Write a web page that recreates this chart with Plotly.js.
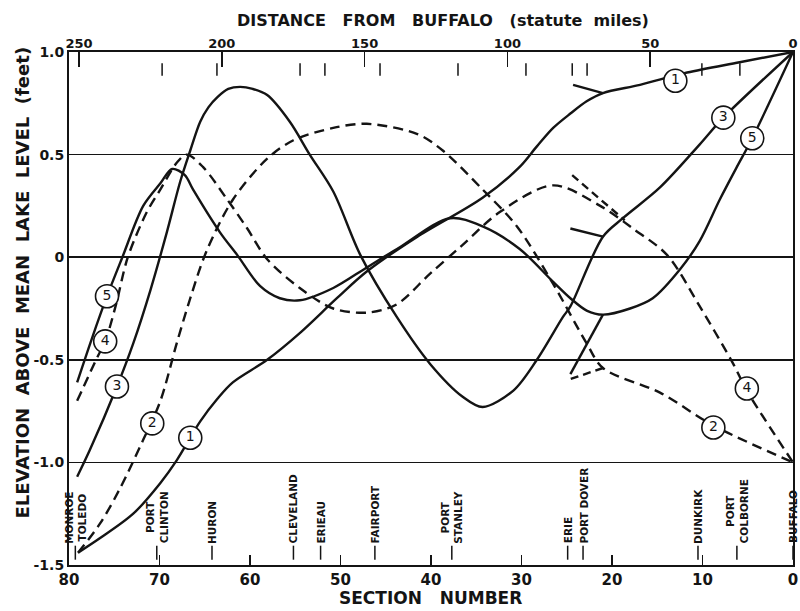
<!DOCTYPE html>
<html>
<head>
<meta charset="utf-8">
<script src="https://cdn.plot.ly/plotly-3.0.1.min.js"></script>
<style>html,body{margin:0;padding:0;background:#fff;}#chart{width:800px;height:611px;}</style>
</head>
<body>
<div id="chart"></div>
<script>
// ---- Data (section number, elevation above mean lake level in feet) ----
const sec1  = [79.0, 76.6, 72.9, 69.9, 68.1, 65.5, 63.6, 61.9, 58.1, 54.5, 50.4, 47.1, 41.5, 34.3, 30.2, 28.3, 26.5, 24.6, 22.8, 21.0, 16.9, 11.7, 5.9, 0];
const elev1 = [-1.44, -1.37, -1.25, -1.10, -0.99, -0.80, -0.69, -0.61, -0.50, -0.37, -0.20, -0.07, 0.10, 0.29, 0.44, 0.54, 0.63, 0.70, 0.76, 0.80, 0.84, 0.90, 0.95, 1.0];

const sec2  = [79.0, 76.6, 74.4, 71.8, 69.9, 68.1, 66.6, 64.8, 61.9, 58.1, 55.2, 50.8, 47.1, 41.5, 38.7, 34.3, 30.5, 26.5, 22.8, 21.0, 14.7, 8.8, 0];
const elev2 = [-1.44, -1.30, -1.13, -0.89, -0.70, -0.42, -0.20, 0.03, 0.28, 0.48, 0.57, 0.63, 0.65, 0.60, 0.52, 0.33, 0.15, -0.13, -0.42, -0.54, -0.66, -0.82, -1.0];

const sec3  = [79.1, 77.7, 74.7, 72.9, 71.0, 69.2, 67.7, 66.6, 65.5, 64.6, 63.6, 62.4, 61.1, 59.7, 58.1, 55.6, 53.4, 50.8, 47.8, 43.8, 40.1, 36.5, 34.3, 30.9, 28.3, 25.4, 24.6, 21.0, 18.8, 14.7, 10.3, 7.7, 0];
const elev3 = [-1.07, -0.94, -0.63, -0.42, -0.16, 0.12, 0.37, 0.52, 0.66, 0.73, 0.78, 0.82, 0.83, 0.82, 0.79, 0.66, 0.50, 0.32, 0.01, -0.29, -0.52, -0.68, -0.73, -0.65, -0.50, -0.29, -0.24, 0.10, 0.19, 0.34, 0.55, 0.68, 1.0];

const sec4  = [79.1, 76.9, 76.0, 74.8, 73.5, 71.4, 69.9, 68.1, 67.0, 65.2, 62.5, 60.3, 58.1, 54.5, 50.8, 47.0, 43.8, 40.1, 36.5, 32.4, 26.5, 21.3, 17.7, 13.9, 10.3, 6.6, 5.1, 0];
const elev4 = [-0.70, -0.49, -0.41, -0.23, 0.0, 0.22, 0.33, 0.46, 0.50, 0.44, 0.28, 0.14, -0.01, -0.15, -0.25, -0.27, -0.23, -0.08, 0.06, 0.22, 0.35, 0.25, 0.14, 0.01, -0.24, -0.52, -0.65, -1.0];

const sec5  = [79.1, 77.5, 75.8, 74.1, 71.8, 69.9, 68.6, 67.2, 66.3, 63.3, 61.4, 58.9, 56.7, 54.5, 50.8, 47.1, 43.4, 37.9, 34.3, 30.2, 26.5, 24.6, 22.8, 21.0, 18.0, 15.5, 12.5, 10.3, 8.1, 6.2, 4.5, 0];
const elev5 = [-0.61, -0.40, -0.19, 0.0, 0.25, 0.36, 0.43, 0.40, 0.33, 0.12, 0.01, -0.14, -0.20, -0.21, -0.15, -0.05, 0.05, 0.19, 0.15, 0.04, -0.12, -0.20, -0.26, -0.28, -0.25, -0.20, -0.06, 0.08, 0.28, 0.44, 0.58, 1.0];

// branches near Long Point (Erie / Port Dover)
const branch1Sec = [24.3, 21.0], branch1Elev = [0.84, 0.80];
const branch2Sec = [21.0, 25.0], branch2Elev = [-0.54, -0.60];
const branch3Sec = [24.6, 21.0], branch3Elev = [0.14, 0.10];
const branch4Sec = [24.4, 18.6], branch4Elev = [0.40, 0.18];
const branch5Sec = [21.0, 24.6], branch5Elev = [-0.28, -0.57];

// circled curve labels
const labelText = ['1', '1', '2', '2', '3', '3', '4', '4', '5', '5'];
const labelSec  = [66.6, 13.0, 70.8, 8.8, 74.7, 7.7, 76.0, 5.1, 75.8, 4.5];
const labelElev = [-0.88, 0.86, -0.81, -0.83, -0.63, 0.68, -0.41, -0.64, -0.19, 0.58];

// stations along the lake
const stationNames = ['MONROE<br>TOLEDO', 'PORT<br>CLINTON', 'HURON', 'CLEVELAND', 'ERIEAU', 'FAIRPORT', 'PORT<br>STANLEY', 'ERIE', 'PORT DOVER', 'DUNKIRK', 'PORT<br>COLBORNE', 'BUFFALO'];
const stationSec   = [79.3, 70.3, 64.2, 55.2, 52.2, 46.2, 37.7, 24.9, 23.2, 10.5, 6.2, 0];

// station marks under the distance scale (statute miles from Buffalo)
const topMarkMiles = [220.9, 201.7, 172.6, 163.9, 144.6, 117.3, 93.5, 77.3, 72.1, 31.9, 18.6];

const sectionTicks = [80, 70, 60, 50, 40, 30, 20, 10, 0];
const mileTicks = [250, 200, 150, 100, 50, 0];
const elevTicks = [-1.5, -1.0, -0.5, 0, 0.5, 1.0];
const elevTickText = ['-1.5', '-1.0', '-0.5', '0', '0.5', '1.0'];

// ---- Styling ----
const INK = '#141414';
const FONT = 'DejaVu Sans, Arial, sans-serif';
const solid = {color: INK, width: 2.4, shape: 'spline', smoothing: 0.9};
const dashed = {color: INK, width: 2.4, shape: 'spline', smoothing: 0.9, dash: '10px,6px'};

function curve(x, y, line) {
  return {x: x, y: y, type: 'scatter', mode: 'lines', line: line, hoverinfo: 'skip', xaxis: 'x', yaxis: 'y'};
}

const traces = [
  curve(sec1, elev1, solid),
  curve(sec3, elev3, solid),
  curve(sec5, elev5, solid),
  curve(sec2, elev2, dashed),
  curve(sec4, elev4, dashed),
  curve(branch1Sec, branch1Elev, {color: INK, width: 2.4}),
  curve(branch3Sec, branch3Elev, {color: INK, width: 2.4}),
  curve(branch5Sec, branch5Elev, {color: INK, width: 2.4}),
  curve(branch2Sec, branch2Elev, {color: INK, width: 2.4, dash: '8px,5px'}),
  curve(branch4Sec, branch4Elev, {color: INK, width: 2.4, dash: '8px,5px'}),
  {
    x: stationSec, y: stationSec.map(() => -1.44), type: 'scatter', mode: 'markers',
    marker: {symbol: 'line-ns', size: 10, line: {color: INK, width: 1.5}},
    hoverinfo: 'skip', cliponaxis: false
  },
  {
    x: topMarkMiles, y: topMarkMiles.map(() => 0.915), type: 'scatter', mode: 'markers',
    xaxis: 'x2', yaxis: 'y',
    marker: {symbol: 'line-ns', size: 9, line: {color: INK, width: 1.5}},
    hoverinfo: 'skip'
  },
  {
    x: labelSec, y: labelElev, text: labelText, type: 'scatter', mode: 'markers+text',
    textposition: 'middle center',
    textfont: {family: FONT, size: 14, color: INK},
    marker: {symbol: 'circle', size: 23, color: '#ffffff', line: {color: INK, width: 1.6}},
    hoverinfo: 'skip', cliponaxis: false
  }
];

const annotations = stationNames.map((name, i) => ({
  x: stationSec[i], y: -1.405, xref: 'x', yref: 'y',
  text: name, showarrow: false, textangle: -90,
  xanchor: 'center', yanchor: 'bottom', align: 'center',
  font: {family: FONT, size: 10.5, color: INK, weight: 'bold'}
}));

annotations.push({
  xref: 'paper', yref: 'paper', x: 0.517, y: 1.062, showarrow: false,
  text: 'DISTANCE\u00a0\u00a0\u00a0FROM\u00a0\u00a0\u00a0BUFFALO\u00a0\u00a0\u00a0(statute\u00a0\u00a0miles)',
  font: {family: FONT, size: 16, color: INK, weight: 'bold'}, xanchor: 'center', yanchor: 'middle'
});
annotations.push({
  xref: 'paper', yref: 'paper', x: 0.499, y: -0.064, showarrow: false,
  text: 'SECTION\u00a0\u00a0\u00a0NUMBER',
  font: {family: FONT, size: 17, color: INK, weight: 'bold'}, xanchor: 'center', yanchor: 'middle'
});
annotations.push({
  xref: 'paper', yref: 'paper', x: -0.064, y: 0.55, showarrow: false, textangle: -90,
  text: 'ELEVATION\u00a0\u00a0ABOVE\u00a0\u00a0MEAN\u00a0\u00a0LAKE\u00a0\u00a0LEVEL\u00a0\u00a0(feet)',
  font: {family: FONT, size: 18, color: INK, weight: 'bold'}, xanchor: 'center', yanchor: 'middle'
});

const layout = {
  width: 800, height: 611,
  margin: {l: 69, r: 7, t: 52, b: 46},
  paper_bgcolor: '#ffffff', plot_bgcolor: '#ffffff',
  showlegend: false,
  xaxis: {
    range: [80, 0], tickvals: sectionTicks, ticks: 'inside', ticklen: 10, tickwidth: 1.5, tickcolor: INK,
    showline: true, linewidth: 2, linecolor: INK, mirror: true, showgrid: false, zeroline: false,
    tickfont: {family: FONT, size: 15, color: INK, weight: 'bold'}
  },
  xaxis2: {
    overlaying: 'x', side: 'top', range: [253.5, 0], tickvals: mileTicks,
    ticks: 'inside', ticklen: 15, tickwidth: 1.5, tickcolor: INK,
    showline: false, showgrid: false, zeroline: false,
    tickfont: {family: FONT, size: 13, color: INK, weight: 'bold'}
  },
  yaxis: {
    range: [-1.5, 1.0], tickvals: elevTicks, ticktext: elevTickText, ticks: '',
    showgrid: true, gridcolor: INK, gridwidth: 1.5, zeroline: false,
    showline: true, linewidth: 2, linecolor: INK, mirror: true,
    tickfont: {family: FONT, size: 14, color: INK, weight: 'bold'}
  },
  annotations: annotations
};

Plotly.newPlot('chart', traces, layout, {staticPlot: true, displayModeBar: false});
</script>
</body>
</html>
